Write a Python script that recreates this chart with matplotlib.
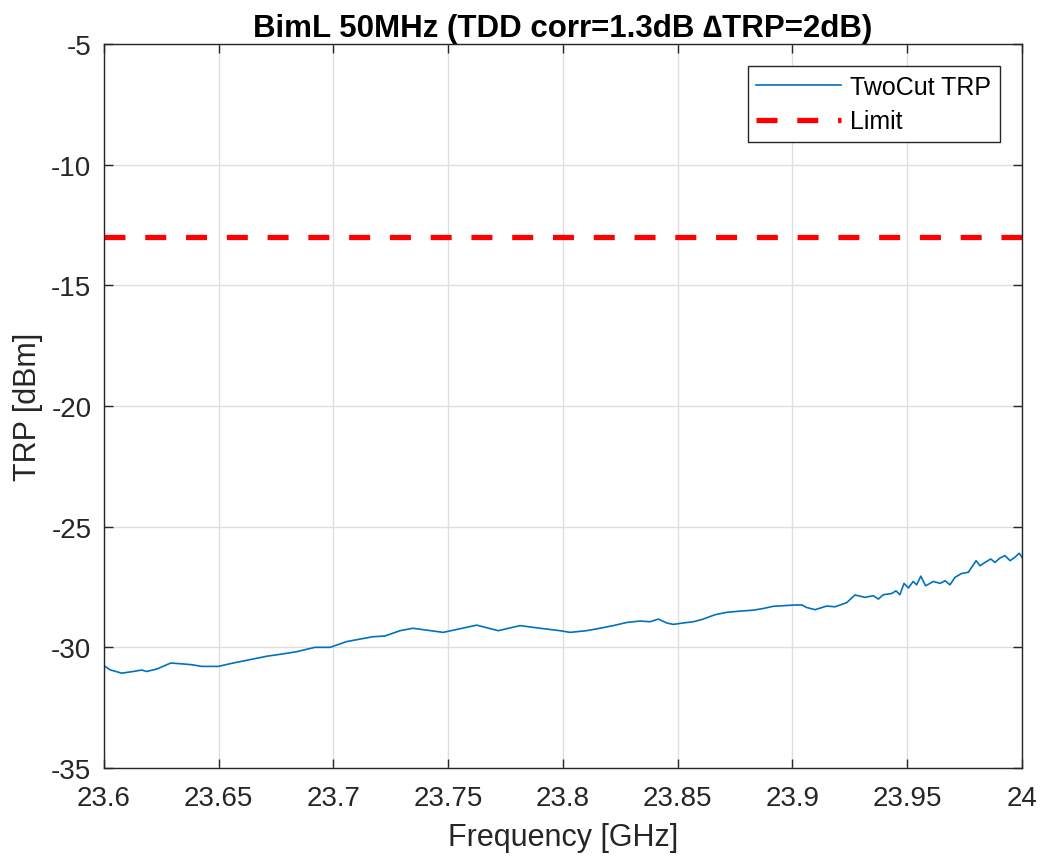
import matplotlib
matplotlib.use("Agg")
import matplotlib.pyplot as plt

plt.rcParams['font.family'] = ['Liberation Sans', 'DejaVu Sans']
plt.rcParams['axes.unicode_minus'] = False

freq_ghz = [23.6000, 23.6026, 23.6077, 23.6128, 23.6164, 23.6186, 23.6230, 23.6291,
            23.6346, 23.6382, 23.6426, 23.6498, 23.6563, 23.6636, 23.6709, 23.6774,
            23.6840, 23.6919, 23.6985, 23.7058, 23.7172, 23.7224, 23.7290, 23.7346,
            23.7478, 23.7624, 23.7718, 23.7813, 23.7900, 23.7987, 23.8031, 23.8103,
            23.8161, 23.8219, 23.8278, 23.8336, 23.8379, 23.8415, 23.8452, 23.8481,
            23.8524, 23.8568, 23.8611, 23.8662, 23.8713, 23.8771, 23.8829, 23.8873,
            23.8916, 23.9003, 23.9040, 23.9062, 23.9098, 23.9149, 23.9185, 23.9236,
            23.9272, 23.9316, 23.9352, 23.9374, 23.9396, 23.9432, 23.9451, 23.9468,
            23.9486, 23.9505, 23.9526, 23.9541, 23.9559, 23.9580, 23.9614, 23.9643,
            23.9665, 23.9686, 23.9708, 23.9737, 23.9766, 23.9800, 23.9817, 23.9839,
            23.9864, 23.9882, 23.9904, 23.9926, 23.9948, 23.9969, 23.9988, 24.0000]
trp_dbm = [-30.76, -30.93, -31.07, -31.00, -30.94, -31.00, -30.90, -30.65,
           -30.69, -30.72, -30.79, -30.79, -30.65, -30.51, -30.37, -30.28,
           -30.18, -30.00, -30.00, -29.76, -29.56, -29.53, -29.31, -29.21,
           -29.38, -29.08, -29.31, -29.10, -29.21, -29.31, -29.38, -29.31,
           -29.21, -29.10, -28.97, -28.91, -28.94, -28.83, -28.99, -29.05,
           -28.99, -28.94, -28.83, -28.65, -28.55, -28.50, -28.46, -28.39,
           -28.30, -28.25, -28.24, -28.35, -28.44, -28.29, -28.32, -28.15,
           -27.83, -27.93, -27.86, -28.00, -27.82, -27.77, -27.66, -27.82,
           -27.35, -27.54, -27.27, -27.41, -27.05, -27.45, -27.27, -27.35,
           -27.24, -27.41, -27.10, -26.94, -26.89, -26.41, -26.62, -26.48,
           -26.34, -26.48, -26.30, -26.20, -26.41, -26.27, -26.10, -26.27]
limit_dbm = -13
x_ticks = [23.6, 23.65, 23.7, 23.75, 23.8, 23.85, 23.9, 23.95, 24.0]
x_tick_labels = ['23.6', '23.65', '23.7', '23.75', '23.8', '23.85', '23.9', '23.95', '24']
y_ticks = [-35, -30, -25, -20, -15, -10, -5]

fig = plt.figure(figsize=(10.44, 8.62), dpi=100)
ax = fig.add_axes([104/1044, 1-769/862, (1022-104)/1044, (769-45)/862])

ax.plot(freq_ghz, trp_dbm, color='#0072BD', lw=1.2, label='TwoCut TRP')
ax.plot([x_ticks[0], x_ticks[-1]], [limit_dbm, limit_dbm], color='red', lw=3.8,
        ls=(0, (3.98, 3.745)), label='Limit')

ax.set_xlim(23.6, 24.0)
ax.set_ylim(-35, -5)
ax.set_xticks(x_ticks)
ax.set_xticklabels(x_tick_labels)
ax.set_yticks(y_ticks)
ax.grid(True, color='#DFDFDF', lw=1)
ax.set_axisbelow(True)
ax.tick_params(direction='in', top=True, right=True, labelsize=20, length=6.5,
               width=1, colors='#262626')
ax.tick_params(axis='x', pad=12)
ax.tick_params(axis='y', pad=9)
for s in ax.spines.values():
    s.set_color('#262626')
    s.set_linewidth(1)

ax.set_xlabel('Frequency [GHz]', fontsize=22, color='#262626', labelpad=8)
ax.set_ylabel('TRP [dBm]', fontsize=22, color='#262626', labelpad=6)
ax.set_title('BimL 50MHz (TDD corr=1.3dB \u2206TRP=2dB)', fontsize=22.5,
             fontweight='bold', pad=6)

leg = ax.legend(loc='upper right', fontsize=18, fancybox=False, framealpha=1,
                edgecolor='#262626', borderaxespad=0.88, handlelength=3.4,
                handletextpad=0.35, borderpad=0.35, labelspacing=0.42)
leg.get_frame().set_linewidth(1)

fig.savefig('out.png', dpi=100, facecolor='white')
